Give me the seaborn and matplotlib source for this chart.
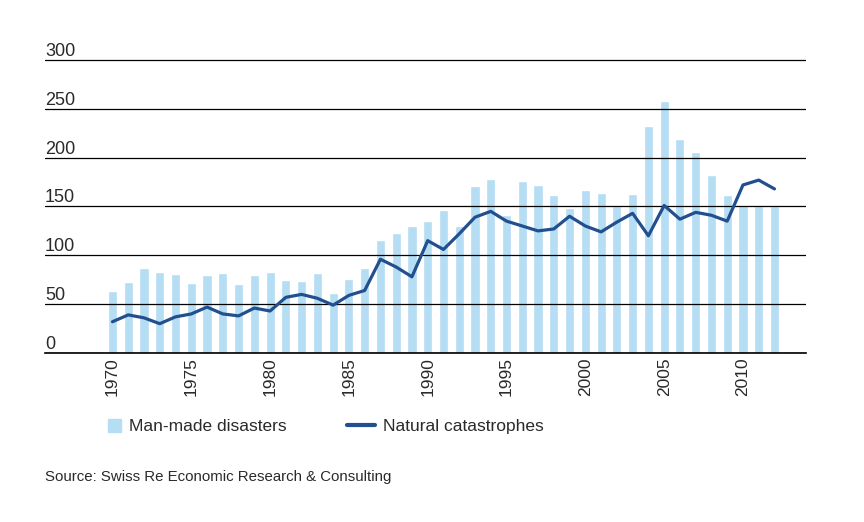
import matplotlib
matplotlib.use("Agg")
import matplotlib.pyplot as plt
import matplotlib.patches as mpatches
from matplotlib.lines import Line2D
from matplotlib.legend_handler import HandlerPatch
import seaborn as sns

# Data
years = list(range(1970, 2013))
man_made = [63, 73, 87, 83, 81, 72, 80, 82, 71, 80,
            83, 75, 74, 82, 61, 76, 87, 116, 123, 130,
            135, 146, 130, 171, 178, 141, 176, 172, 162, 148,
            167, 164, 150, 163, 232, 258, 219, 206, 182, 162,
            152, 151, 151]
natural = [32, 39, 36, 30, 37, 40, 47, 40, 38, 46,
           43, 57, 60, 56, 49, 59, 64, 96, 88, 78,
           115, 106, 122, 139, 145, 135, 130, 125, 127, 140,
           130, 124, 134, 143, 120, 151, 137, 144, 141, 135,
           172, 177, 168]
y_ticks = [0, 50, 100, 150, 200, 250, 300]
x_ticks = [1970, 1975, 1980, 1985, 1990, 1995, 2000, 2005, 2010]

bar_color = "#b5ddf3"
line_color = "#22508f"
text_color = "#2a2a2a"

sns.set_style("white")
plt.rcParams["font.family"] = ["Liberation Sans", "DejaVu Sans"]

fig = plt.figure(figsize=(8.64, 5.22), dpi=100)
ax = fig.add_axes([45 / 864, 1 - 353 / 522, (806 - 45) / 864, 295 / 522])

# bars under the gridlines, line on top
sns.barplot(x=years, y=man_made, native_scale=True, width=0.58,
            color=bar_color, saturation=1, ax=ax, zorder=1)
sns.lineplot(x=years, y=natural, color=line_color, linewidth=2.3, ax=ax, zorder=3)

ax.set_xlim(1965.72, 2014.0)
ax.set_ylim(0, 302)

# horizontal gridlines, labels sitting above each line
ax.set_yticks(y_ticks)
ax.set_yticklabels([str(v) for v in y_ticks])
ax.set_axisbelow(False)
ax.yaxis.grid(True, color="black", linewidth=0.9)
ax.tick_params(axis="y", length=0, pad=0, labelsize=13, labelcolor=text_color)
for lab in ax.get_yticklabels():
    lab.set_horizontalalignment("left")
    lab.set_verticalalignment("bottom")
for gl in ax.get_ygridlines():
    gl.set_zorder(2)

ax.set_xticks(x_ticks)
ax.set_xticklabels([str(v) for v in x_ticks], rotation=90)
ax.tick_params(axis="x", length=0, pad=3, labelsize=12.5, labelcolor=text_color)
ax.xaxis.grid(False)

for side in ["top", "right", "left"]:
    ax.spines[side].set_visible(False)
ax.spines["bottom"].set_color("black")
ax.spines["bottom"].set_linewidth(1.2)
ax.spines["bottom"].set_zorder(2.5)
ax.set_xlabel("")
ax.set_ylabel("")


def square_handle(legend, orig_handle, xdescent, ydescent, width, height, fontsize):
    s = height * 1.08
    return mpatches.Rectangle((-xdescent + width - s, -ydescent + (height - s) / 2), s, s)


bar_proxy = mpatches.Patch(color=bar_color, label="Man-made disasters")
line_proxy = Line2D([], [], color=line_color, linewidth=3, label="Natural catastrophes")
fig.legend(handles=[bar_proxy, line_proxy], loc="upper left",
           bbox_to_anchor=(93 / 864, 1 - 419 / 522), ncol=2, frameon=False,
           fontsize=12.5, labelcolor=text_color, handlelength=1.6,
           handletextpad=0.45, columnspacing=3.5, borderpad=0, borderaxespad=0,
           handler_map={mpatches.Patch: HandlerPatch(patch_func=square_handle)})

fig.text(45 / 864, 1 - 477 / 522, "Source: Swiss Re Economic Research & Consulting",
         fontsize=10.8, color=text_color, va="center", ha="left")

fig.savefig("out.png", dpi=100)
